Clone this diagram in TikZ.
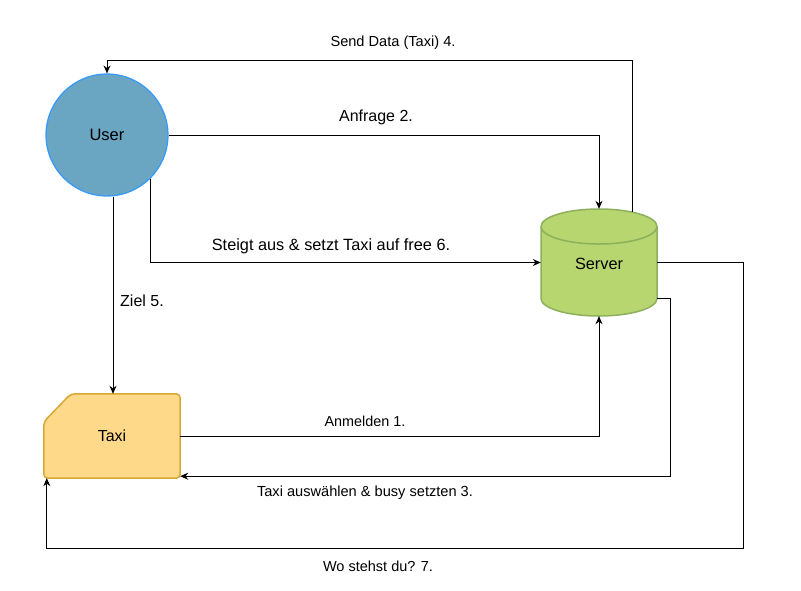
\documentclass[tikz,border=0pt]{standalone}
\usepackage{fontspec}
\setmainfont{Liberation Sans}
\usetikzlibrary{arrows.meta}
\definecolor{userfill}{RGB}{106,165,194}
\definecolor{userline}{RGB}{51,153,255}
\definecolor{srvfill}{RGB}{183,214,112}
\definecolor{srvline}{RGB}{140,176,92}
\definecolor{taxifill}{RGB}{255,217,138}
\definecolor{taxiline}{RGB}{214,168,52}
\begin{document}
\begin{tikzpicture}[x=1pt,y=-1pt]
            \tikzset{flow/.style={-{Stealth[length=8pt,width=7pt]}, line width=0.9pt},
            lbl/.style={font=\fontsize{#1}{#1}\selectfont, inner sep=0pt}}
            \useasboundingbox (0,0) rectangle (801,590);

            \node[circle, fill=userfill, draw=userline, line width=1.2pt, minimum size=122pt, font=\fontsize{16.5}{16.5}\selectfont] (user) at (107,135) {User};
            \node[minimum width=116pt, minimum height=107pt] (server) at (599,262.5) {};
            \node[minimum width=136pt, minimum height=84pt] (taxi) at (112,436) {};

            \filldraw[fill=srvfill, draw=srvline, line width=1.5pt] (541,226.5) -- (541,298.5) arc[start angle=180, end angle=360, x radius=58pt, y radius=17.5pt] -- (657,226.5) arc[start angle=0, end angle=180, x radius=58pt, y radius=17.5pt] -- cycle;
            \draw[srvline, line width=1.5pt] (541,226.5) arc[start angle=180, end angle=360, x radius=58pt, y radius=17.5pt];
            \node[lbl=16.3] at ([yshift=-1.5pt]server.center) {Server};
            \filldraw[fill=taxifill, draw=taxiline, line width=1.5pt, rounded corners=4pt] ([yshift=-28pt]taxi.north west) -- ([xshift=27pt]taxi.north west) -- (taxi.north east) -- (taxi.south east) -- (taxi.south west) -- cycle;
            \node[lbl=16] at (taxi.center) {Taxi};

            \coordinate (srvback) at (632,212);
            \coordinate (srvlow) at (657,298);
            \draw[flow] (srvback) -- ++(0,-152) -| (user.north);
            \draw[flow] (user.east) -| (server.north);
            \draw[flow] (user.-45) |- (server.west);
            \draw[flow] ([xshift=6pt]user.south) -- ([xshift=1pt]taxi.north);
            \draw[flow] (taxi.east) -| (server.south);
            \draw[flow] (srvlow) -- ++(13,0) |- ([yshift=2pt]taxi.south east);
            \draw[flow] (server.east) -| (743,548) -| ([xshift=3pt]taxi.south west);

            \node[lbl=14.6] (l4) at (393,43) {Send Data (Taxi) 4.};
            \node[lbl=16] (l2) at (376,117) {Anfrage 2.};
            \node[lbl=16.3] (l6) at (331,246) {Steigt aus \& setzt Taxi auf free 6.};
            \node[lbl=16] (l5) at (142,301) {Ziel 5.};
            \node[lbl=14.4] (l1) at (365,421) {Anmelden 1.};
            \node[lbl=14.6] (l3) at (365,493) {Taxi auswählen \& busy setzten 3.};
            \node[lbl=14.5] (l7) at (378,566) {Wo stehst du? 7.};
        \end{tikzpicture}
\end{document}
